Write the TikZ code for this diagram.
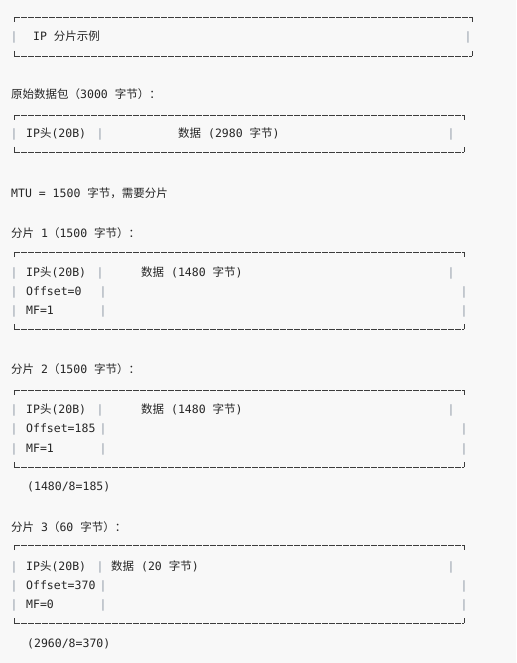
\documentclass[tikz,border=0pt]{standalone}
\usepackage{fontspec}
\setmonofont{DejaVu Sans Mono}
\newfontfamily\cjk{Noto Sans CJK SC}
\usetikzlibrary{calc}

\definecolor{pagebg}{HTML}{F8F8F8}
\definecolor{ink}{HTML}{262626}
\definecolor{rulecol}{HTML}{3C3C3C}
\definecolor{pipecol}{HTML}{8E99A6}

\newcommand{\zh}[1]{{\cjk #1}}
% frame of one text box: left, right, top, bottom
\newcommand{\asciibox}[4]{%
  \draw[frameline] (#1,#3) -- (#2,#3);
  \draw[frameline] (#1,#4) -- (#2,#4);
  \draw[frametick] (#1,#3+5) -- (#1,#3) (#2,#3) -- (#2,#3+5);
  \draw[frametick] (#1,#4-5) -- (#1,#4) (#2,#4) -- (#2,#4-5);
}

\begin{document}
\begin{tikzpicture}[x=1pt,y=-1pt]
  \tikzstyle{txt}=[inner sep=0pt,anchor=base west,text=ink,
    font=\ttfamily\fontsize{11.5}{14}\selectfont]
  \tikzstyle{pipe}=[inner sep=0pt,anchor=base,text=pipecol,
    font=\ttfamily\fontsize{11.5}{14}\selectfont]
  \tikzstyle{frameline}=[draw=rulecol,line width=0.9pt,dash pattern=on 6.3pt off 0.7pt]
  \tikzstyle{frametick}=[draw=rulecol,line width=0.9pt]

  \fill[pagebg] (0,0) rectangle (516,663);
  \useasboundingbox (0,0) rectangle (516,663);

  % title box
  \asciibox{14}{472}{17}{56}
  \node[txt] (title) at (33,41) {IP \zh{分片示例}};
  \foreach \px/\py [count=\i] in {14/41,468/41}
    \node[pipe] (t\i) at (\px,\py) {|};

  % original packet
  \node[txt] (orighead) at (11,99) {\zh{原始数据包（}3000 \zh{字节）：}};
  \asciibox{14}{464}{115}{152}
  \node[txt] (ohdr)  at (26,138)  {IP\zh{头}(20B)};
  \node[txt] (odata) at (178,138) {\zh{数据} (2980 \zh{字节})};
  \foreach \px/\py [count=\i] in {14/138,100/138,451/138}
    \node[pipe] (o\i) at (\px,\py) {|};

  \node[txt] (mtu) at (11,197) {MTU = 1500 \zh{字节，需要分片}};

  % fragment 1
  \node[txt] (f1head) at (11,237) {\zh{分片} 1\zh{（}1500 \zh{字节）：}};
  \asciibox{14}{464}{252}{329}
  \node[txt] (f1hdr)  at (26,276)  {IP\zh{头}(20B)};
  \node[txt] (f1data) at (141,276) {\zh{数据} (1480 \zh{字节})};
  \node[txt] (f1off)  at (26,295)  {Offset=0};
  \node[txt] (f1mf)   at (26,314)  {MF=1};
  \foreach \px/\py [count=\i] in {14/276,100/276,451/276,14/295,103/295,464/295,14/314,103/314,464/314}
    \node[pipe] (a\i) at (\px,\py) {|};

  % fragment 2
  \node[txt] (f2head) at (11,373) {\zh{分片} 2\zh{（}1500 \zh{字节）：}};
  \asciibox{14}{464}{390}{467}
  \node[txt] (f2hdr)  at (26,413)  {IP\zh{头}(20B)};
  \node[txt] (f2data) at (141,413) {\zh{数据} (1480 \zh{字节})};
  \node[txt] (f2off)  at (26,432)  {Offset=185};
  \node[txt] (f2mf)   at (26,452)  {MF=1};
  \foreach \px/\py [count=\i] in {14/413,100/413,451/413,14/432,103/432,464/432,14/452,103/452,464/452}
    \node[pipe] (b\i) at (\px,\py) {|};
  \node[txt] (f2note) at (27,490) {(1480/8=185)};

  % fragment 3
  \node[txt] (f3head) at (11,531) {\zh{分片} 3\zh{（}60 \zh{字节）：}};
  \asciibox{14}{464}{545}{623}
  \node[txt] (f3hdr)  at (26,570)  {IP\zh{头}(20B)};
  \node[txt] (f3data) at (111,570) {\zh{数据} (20 \zh{字节})};
  \node[txt] (f3off)  at (26,589)  {Offset=370};
  \node[txt] (f3mf)   at (26,608)  {MF=0};
  \foreach \px/\py [count=\i] in {14/570,100/570,451/570,14/589,103/589,464/589,14/608,103/608,464/608}
    \node[pipe] (c\i) at (\px,\py) {|};
  \node[txt] (f3note) at (27,647) {(2960/8=370)};
\end{tikzpicture}
\end{document}
